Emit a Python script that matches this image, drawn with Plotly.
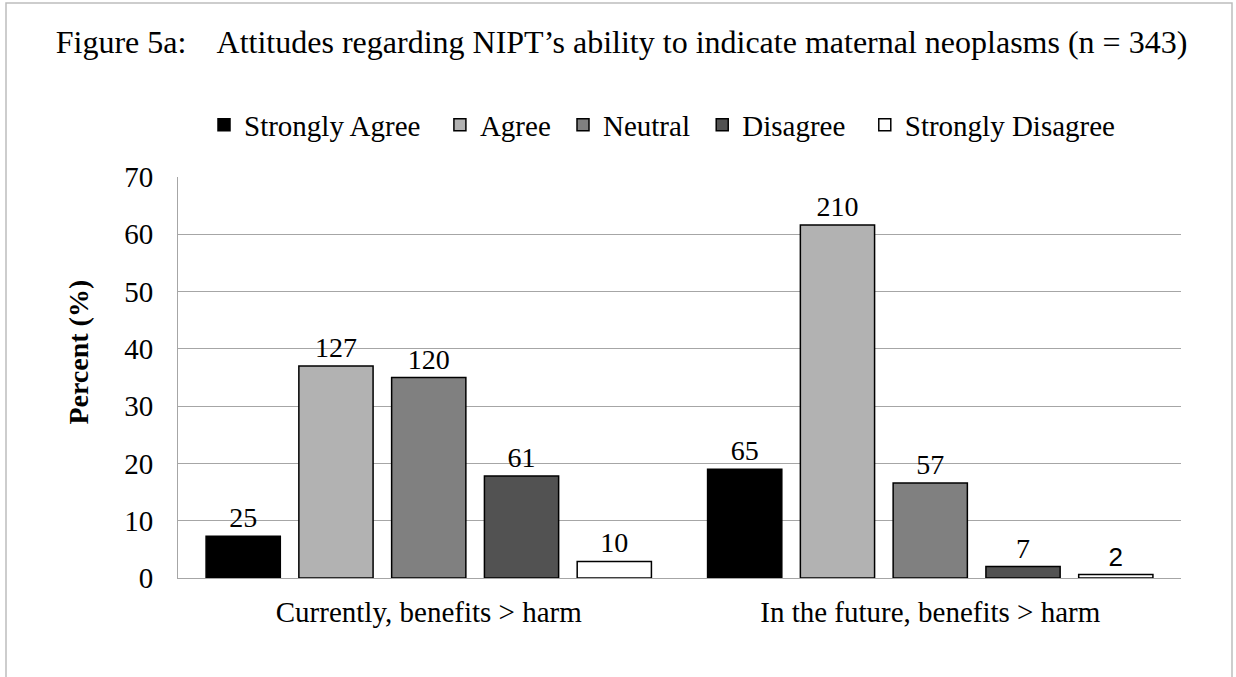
import plotly.graph_objects as go

# ---- data ----
categories = ["Currently, benefits > harm", "In the future, benefits > harm"]
series_names = ["Strongly Agree", "Agree", "Neutral", "Disagree", "Strongly Disagree"]
strongly_agree_pct = [7.3, 19.0]
agree_pct = [37.0, 61.6]
neutral_pct = [35.0, 16.6]
disagree_pct = [17.8, 2.0]
strongly_disagree_pct = [2.9, 0.6]
strongly_agree_n = [25, 65]
agree_n = [127, 210]
neutral_n = [120, 57]
disagree_n = [61, 7]
strongly_disagree_n = [10, 2]
y_ticks = [0, 10, 20, 30, 40, 50, 60, 70]

title_text = "Figure 5a:\u00a0\u00a0\u00a0 Attitudes regarding NIPT\u2019s ability to indicate maternal neoplasms (n = 343)"

colors = ["#000000", "#b2b2b2", "#808080", "#525252", "#ffffff"]
values = [strongly_agree_pct, agree_pct, neutral_pct, disagree_pct, strongly_disagree_pct]
counts = [strongly_agree_n, agree_n, neutral_n, disagree_n, strongly_disagree_n]
legend_pad = ["\u00a0\u00a0", "\u00a0", "\u00a0", "\u00a0\u00a0", ""]

SERIF = "Liberation Serif"

W, H = 1236, 677
PW, PH = 1003, 401
ML = 178
MT = 177
MR = W - ML - PW
MB = H - MT - PH

fig = go.Figure()
for name, vals, cnt, col, pad in zip(series_names, values, counts, colors, legend_pad):
    fams = [SERIF if c != 2 else "Liberation Sans" for c in cnt]
    sizes = [28 if c != 2 else 26 for c in cnt]
    fig.add_trace(go.Bar(
        name=name + pad, x=categories, y=vals,
        text=[str(c) for c in cnt], textposition="outside",
        textfont=dict(family=fams, size=sizes, color="#000000"),
        cliponaxis=False,
        marker=dict(color=col, line=dict(color="#000000", width=1.5)),
    ))

def px_x(px):
    return (px - ML) / PW

def px_y(py):
    return (MT + PH - py) / PH

fig.update_layout(
    width=W, height=H,
    margin=dict(l=ML, r=MR, t=MT, b=MB),
    paper_bgcolor="#ffffff", plot_bgcolor="#ffffff",
    font=dict(family=SERIF, size=29, color="#000000"),
    barmode="group", bargap=0.075, bargroupgap=0.2,
    title=dict(text=title_text, font=dict(family=SERIF, size=32, color="#000000"),
               x=621.5 / W, xanchor="center", xref="container",
               y=1 - 41.5 / H, yanchor="middle", yref="container"),
    legend=dict(orientation="h", x=px_x(204), xanchor="left", y=px_y(125), yanchor="middle",
                font=dict(family=SERIF, size=29, color="#000000"),
                bgcolor="rgba(0,0,0,0)", traceorder="normal"),
    showlegend=True,
    xaxis=dict(showgrid=False, showline=True, linecolor="#a6a6a6", linewidth=1,
               ticks="", tickfont=dict(family=SERIF, size=29), ticklabelstandoff=8,
               zeroline=False),
    yaxis=dict(range=[0, 70], tickvals=y_ticks, showgrid=True, gridcolor="#a6a6a6", gridwidth=1,
               showline=True, linecolor="#a6a6a6", linewidth=1, zeroline=False,
               ticks="", tickfont=dict(family=SERIF, size=29), ticklabelstandoff=18),
    annotations=[dict(text="<b>Percent (%)</b>", textangle=-90, xref="paper", yref="paper",
                      x=px_x(79), y=px_y(352.6), xanchor="center", yanchor="middle",
                      showarrow=False, font=dict(family=SERIF, size=28, color="#000000"))],
    shapes=[dict(type="rect", xref="paper", yref="paper",
                 x0=px_x(6), x1=px_x(1232), y0=px_y(720), y1=px_y(3),
                 line=dict(color="#bdbdbd", width=1.5), fillcolor="rgba(0,0,0,0)", layer="below")],
)

fig.write_html("out.html", config={"displayModeBar": False},
               post_script="document.body.style.margin='0px';")
